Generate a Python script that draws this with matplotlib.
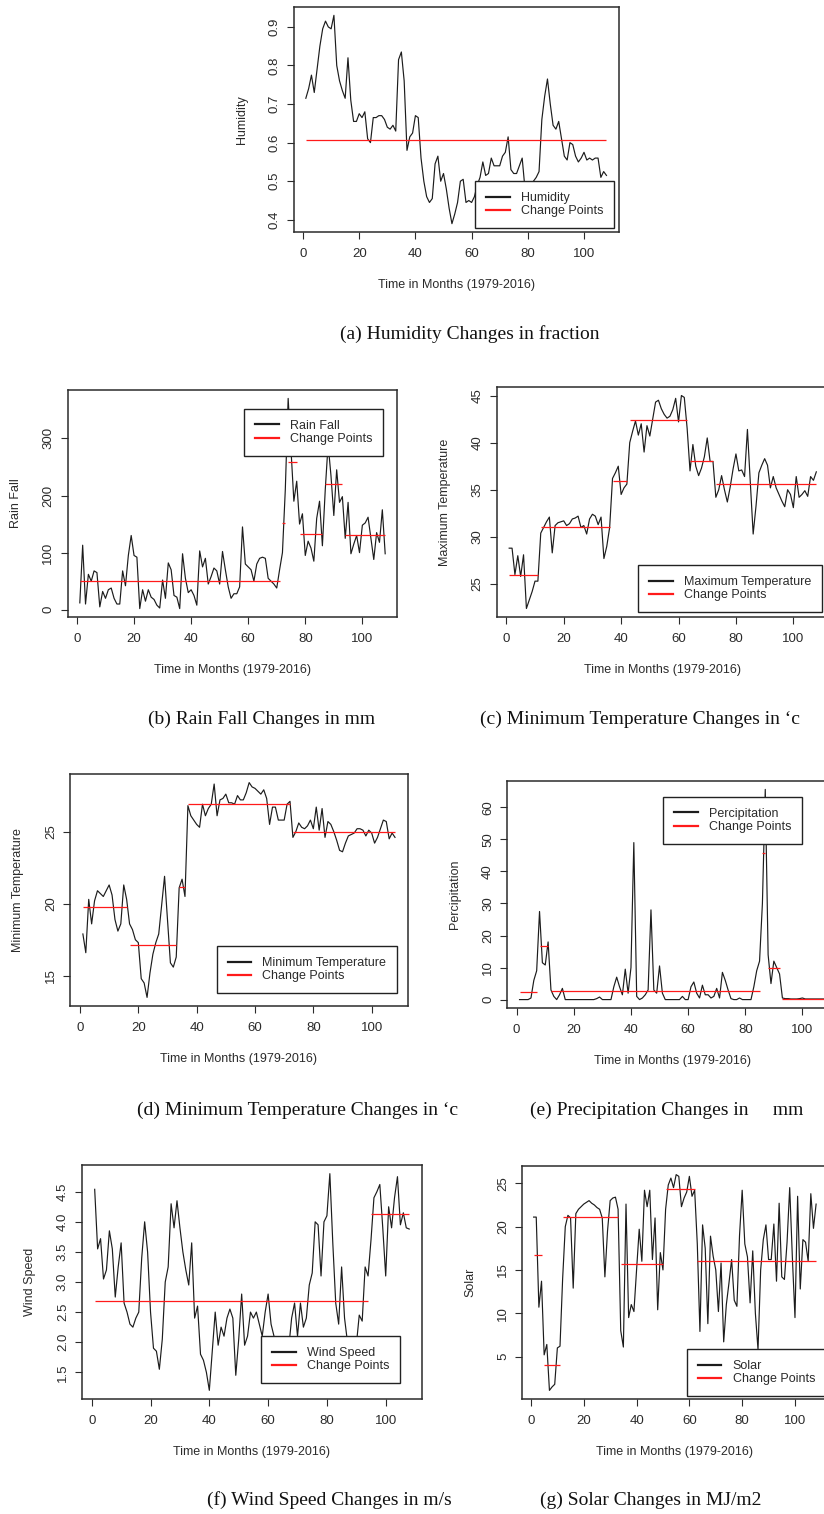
"""Seven stacked change-point panels (R style) for the 1979-2016 weather series."""
import matplotlib
matplotlib.use("Agg")
import matplotlib.pyplot as plt
from matplotlib.lines import Line2D
import numpy as np

plt.rcParams["font.family"] = ["Liberation Sans", "DejaVu Sans"]

W, H = 824, 1514          # output size in px (dpi 100)
INK = "#2b2b2b"

months = np.arange(1, 109)
x_ticks = [0, 20, 40, 60, 80, 100]
x_label = "Time in Months (1979-2016)"

# ---- series ---------------------------------------------------------------
humidity = [0.715, 0.74, 0.775, 0.73, 0.79, 0.85, 0.895, 0.915, 0.90, 0.895,
            0.93, 0.80, 0.76, 0.735, 0.715, 0.82, 0.71, 0.655, 0.655, 0.675,
            0.665, 0.68, 0.61, 0.60, 0.665, 0.665, 0.67, 0.67, 0.66, 0.64,
            0.635, 0.645, 0.63, 0.815, 0.835, 0.76, 0.58, 0.615, 0.625, 0.67,
            0.665, 0.56, 0.50, 0.46, 0.445, 0.455, 0.545, 0.565, 0.50, 0.52,
            0.48, 0.43, 0.39, 0.415, 0.445, 0.50, 0.505, 0.445, 0.45, 0.445,
            0.46, 0.49, 0.51, 0.55, 0.515, 0.52, 0.56, 0.54, 0.54, 0.54,
            0.565, 0.575, 0.615, 0.53, 0.52, 0.52, 0.54, 0.56, 0.48, 0.47,
            0.49, 0.50, 0.51, 0.525, 0.66, 0.72, 0.765, 0.70, 0.645, 0.635,
            0.655, 0.61, 0.565, 0.555, 0.60, 0.595, 0.565, 0.55, 0.56, 0.575,
            0.555, 0.56, 0.555, 0.56, 0.56, 0.51, 0.525, 0.515]

rainfall = [12, 113, 10, 62, 50, 68, 65, 5, 32, 20,
            35, 38, 20, 10, 10, 68, 42, 95, 130, 95,
            92, 2, 35, 15, 35, 22, 18, 8, 3, 52,
            20, 82, 70, 25, 22, 2, 98, 55, 30, 35,
            25, 8, 103, 75, 90, 45, 58, 73, 68, 45,
            102, 70, 40, 20, 28, 28, 40, 145, 80, 75,
            70, 50, 80, 90, 92, 90, 55, 50, 45, 38,
            70, 100, 210, 370, 280, 190, 225, 150, 168, 95,
            120, 108, 85, 160, 190, 112, 210, 290, 235, 165,
            245, 188, 198, 125, 188, 98, 115, 130, 100, 148,
            152, 162, 125, 88, 135, 118, 175, 98]

max_temp = [28.8, 28.8, 26.0, 28.0, 25.8, 28.1, 22.4, 23.3, 24.2, 25.3,
            25.3, 30.4, 31.0, 31.6, 32.1, 28.3, 31.2, 31.5, 31.6, 31.7,
            31.2, 31.4, 31.9, 32.0, 32.2, 31.0, 31.2, 30.3, 31.9, 32.4,
            32.2, 31.3, 32.1, 27.7, 29.0, 31.0, 36.2, 36.8, 37.5, 34.5,
            35.2, 35.6, 40.0, 41.2, 42.3, 40.8, 42.0, 39.0, 41.8, 40.7,
            42.5, 44.3, 44.5, 43.6, 43.0, 42.6, 42.8, 43.5, 44.7, 42.2,
            45.0, 44.8, 41.5, 37.0, 39.8, 37.5, 36.5, 37.3, 38.5, 40.5,
            38.0, 38.0, 34.2, 35.0, 36.5, 35.0, 33.7, 35.3, 37.2, 38.8,
            37.0, 37.1, 36.4, 41.4, 35.8, 30.3, 33.3, 36.8, 37.6, 38.3,
            37.6, 35.2, 36.4, 35.2, 34.5, 33.8, 33.2, 35.0, 34.5, 33.1,
            36.4, 34.2, 34.5, 34.9, 34.3, 36.4, 36.0, 36.9]

min_temp = [17.9, 16.6, 20.3, 18.6, 20.2, 20.9, 20.7, 20.5, 20.9, 21.3,
            20.6, 18.9, 18.1, 18.6, 21.3, 20.3, 18.6, 18.2, 17.5, 17.3,
            14.8, 14.5, 13.5, 15.2, 16.5, 17.3, 17.9, 19.9, 21.9, 18.9,
            15.9, 15.6, 16.3, 21.1, 21.7, 20.5, 26.8, 26.1, 25.8, 25.5,
            25.3, 26.9, 26.1, 26.6, 26.9, 28.3, 26.1, 27.2, 27.3, 27.6,
            27.0, 27.0, 26.9, 27.5, 27.2, 27.2, 27.7, 28.4, 28.1, 28.0,
            27.8, 27.6, 27.9, 27.3, 25.5, 26.7, 26.7, 25.8, 25.8, 25.8,
            26.9, 27.1, 24.6, 25.0, 25.6, 25.3, 25.2, 25.4, 25.8, 25.2,
            26.7, 25.1, 26.6, 24.6, 25.7, 25.5, 25.0, 24.4, 23.7, 23.6,
            24.2, 24.7, 24.8, 24.9, 25.2, 25.2, 25.1, 24.7, 25.1, 24.9,
            24.2, 24.6, 25.2, 25.8, 25.7, 24.5, 24.9, 24.6]

precip = [0, 0, 0, 0, 0.5, 6, 9, 27.5, 11.5, 10.8,
          18, 3, 1, 0, 1.5, 3.5, 0, 0, 0, 0,
          0, 0, 0, 0, 0, 0, 0, 0.3, 0.8, 0,
          0, 0, 0, 4, 7, 4, 1.5, 9.5, 2, 10,
          49, 1, 0, 0.5, 1.5, 3, 28, 3, 2, 10.5,
          2, 0, 0, 0, 0, 0, 0, 1, 0, 0,
          4, 5.5, 2, 0.5, 4.5, 1.5, 1.5, 0.5, 1, 3.5,
          0.5, 8.5, 6, 3, 0.3, 0, 0, 0.5, 0, 0,
          0, 0, 4, 9, 12, 30, 65.6, 14, 5, 12,
          10, 8, 0.5, 0.3, 0.3, 0.2, 0.2, 0.2, 0.3, 0.5,
          0.2, 0.2, 0.2, 0.2, 0.2, 0.2, 0.2, 0.2]

wind = [4.54, 3.55, 3.72, 3.05, 3.2, 3.85, 3.55, 2.75, 3.25, 3.65,
        2.65, 2.5, 2.3, 2.25, 2.4, 2.5, 3.4, 4.0, 3.5, 2.5,
        1.9, 1.85, 1.55, 2.05, 3.0, 3.25, 4.3, 3.9, 4.35, 3.9,
        3.5, 3.2, 2.95, 3.65, 2.4, 2.6, 1.8, 1.7, 1.5, 1.2,
        1.85, 2.5, 1.95, 2.25, 2.1, 2.4, 2.55, 2.4, 1.45, 2.05,
        2.8, 1.95, 2.1, 2.5, 2.4, 2.5, 2.3, 2.1, 2.5, 2.8,
        2.3, 2.1, 1.9, 1.8, 1.9, 2.0, 1.9, 2.4, 2.65, 2.1,
        2.65, 2.25, 2.4, 2.95, 3.15, 4.0, 3.95, 3.1, 4.0, 4.1,
        4.8, 3.65, 2.65, 2.3, 3.25, 2.4, 2.0, 1.7, 1.9, 1.95,
        2.45, 2.35, 3.25, 3.1, 3.7, 4.4, 4.5, 4.62, 3.9, 3.1,
        4.25, 3.9, 4.4, 4.75, 3.95, 4.15, 3.9, 3.88]

solar = [21.1, 21.1, 10.7, 13.7, 5.2, 6.4, 1.1, 1.5, 1.8, 6.0,
         6.2, 14.0, 20.0, 21.3, 21.0, 12.9, 21.5, 22.0, 22.3, 22.6,
         22.8, 23.0, 22.7, 22.5, 22.2, 22.0, 21.0, 14.2, 19.5, 23.0,
         23.3, 23.4, 22.0, 8.0, 6.1, 22.6, 9.5, 11.0, 10.2, 15.0,
         19.7, 16.0, 24.2, 22.3, 24.2, 16.2, 21.0, 10.4, 17.0, 15.0,
         22.0, 24.8, 25.6, 24.5, 26.0, 25.8, 22.3, 23.3, 24.0, 25.8,
         23.5, 24.2, 18.0, 7.9, 20.2, 17.5, 8.8, 18.9, 16.6, 15.0,
         10.2, 15.8, 6.7, 11.0, 13.5, 16.2, 11.5, 10.8, 19.0, 24.2,
         18.0, 16.5, 11.2, 17.2, 10.0, 5.8, 15.0, 18.5, 20.2, 16.2,
         16.2, 20.3, 13.7, 22.7, 14.2, 13.9, 18.2, 24.5, 16.5, 9.5,
         23.5, 12.8, 18.5, 18.2, 16.0, 23.8, 19.8, 22.6]

# ---- change-point segments: start month, end month, segment mean ----------
hum_cp_start, hum_cp_end, hum_cp_level = [1], [108], [0.607]
rain_cp_start = [1, 72, 74, 78, 87, 94]
rain_cp_end = [71, 73, 77, 86, 93, 108]
rain_cp_level = [50.5, 152, 258, 133, 220, 131]
tmax_cp_start = [1, 12, 37, 43, 64, 73]
tmax_cp_end = [11, 36, 42, 63, 72, 108]
tmax_cp_level = [25.95, 31.1, 35.95, 42.4, 38.1, 35.6]
tmin_cp_start = [1, 17, 34, 37, 73]
tmin_cp_end = [16, 33, 36, 72, 108]
tmin_cp_level = [19.8, 17.15, 21.15, 26.9, 25.0]
prec_cp_start = [1, 8, 12, 86, 88, 93]
prec_cp_end = [7, 11, 85, 87, 92, 108]
prec_cp_level = [2.3, 16.8, 2.8, 45.8, 10.0, 0.25]
wind_cp_start, wind_cp_end, wind_cp_level = [1, 95], [94, 108], [2.68, 4.13]
sol_cp_start = [1, 5, 12, 34, 51, 63]
sol_cp_end = [4, 11, 33, 50, 62, 108]
sol_cp_level = [16.7, 4.05, 21.1, 15.65, 24.35, 16.05]


def px_rect(left, top, right, bottom):
    return [left / W, 1 - bottom / H, (right - left) / W, (bottom - top) / H]


def panel(fig, box, y, cps, ylabel, name, yticks, leg_loc, leg_xy):
    left, top, right, bottom = box
    ax = fig.add_axes(px_rect(*box))
    wpx, hpx = right - left, bottom - top

    ax.plot(months, y, color="#1c1c1c", lw=0.85)
    ax.hlines(cps[2], cps[0], cps[1], colors="#ff1a1a", lw=0.9)

    # R's default 4% axis expansion
    lo, hi = min(y), max(y)
    pad = 0.04 * (hi - lo)
    ax.set_ylim(lo - pad, hi + pad)
    span = months[-1] - months[0]
    ax.set_xlim(months[0] - 0.04 * span, months[-1] + 0.04 * span)

    ax.set_xticks(x_ticks)
    ax.set_yticks(yticks)
    ax.tick_params(direction="out", length=5, width=0.8, color=INK,
                   labelcolor=INK, labelsize=9.5)
    ax.tick_params(axis="x", pad=6.5)
    ax.tick_params(axis="y", pad=4.5, labelrotation=90)
    for lab in ax.get_yticklabels():
        lab.set_va("center")
    for sp in ax.spines.values():
        sp.set_color(INK)
        sp.set_linewidth(1.1)

    ax.set_xlabel(x_label, fontsize=9, color=INK)
    ax.set_ylabel(ylabel, fontsize=9, color=INK)
    ax.xaxis.set_label_coords(0.5, -47 / hpx)
    ax.yaxis.set_label_coords(-46 / wpx, 0.5)

    handles = [Line2D([], [], color="#1c1c1c", lw=1.6),
               Line2D([], [], color="#ff1a1a", lw=1.6)]
    anchor = ((leg_xy[0] - left) / wpx, (bottom - leg_xy[1]) / hpx)
    leg = ax.legend(handles, [name, "Change Points"], loc=leg_loc,
                    bbox_to_anchor=anchor, borderaxespad=0, fontsize=9,
                    frameon=True, fancybox=False, framealpha=1,
                    edgecolor="#222222", borderpad=0.85, handlelength=1.9,
                    handletextpad=0.9, labelspacing=0.12)
    leg.get_frame().set_linewidth(1.0)
    for t in leg.get_texts():
        t.set_color(INK)
    return ax


fig = plt.figure(figsize=(W / 100, H / 100), dpi=100)
fig.patch.set_facecolor("white")

panel(fig, (293.8, 7, 618.5, 232), humidity,
      (hum_cp_start, hum_cp_end, hum_cp_level), "Humidity", "Humidity",
      [0.4, 0.5, 0.6, 0.7, 0.8, 0.9], "lower right", (614, 228))
panel(fig, (67.6, 390, 397.4, 617), rainfall,
      (rain_cp_start, rain_cp_end, rain_cp_level), "Rain Fall", "Rain Fall",
      [0, 100, 200, 300], "upper right", (383, 409))
panel(fig, (496.9, 387, 828.6, 617), max_temp,
      (tmax_cp_start, tmax_cp_end, tmax_cp_level), "Maximum Temperature",
      "Maximum Temperature", [25, 30, 35, 40, 45], "lower right", (822, 612))
panel(fig, (70.4, 774, 407.5, 1006), min_temp,
      (tmin_cp_start, tmin_cp_end, tmin_cp_level), "Minimum Temperature",
      "Minimum Temperature", [15, 20, 25], "lower right", (397, 993))
panel(fig, (507.3, 781, 837.5, 1008), precip,
      (prec_cp_start, prec_cp_end, prec_cp_level), "Percipitation",
      "Percipitation", [0, 10, 20, 30, 40, 50, 60], "upper right", (802, 797))
panel(fig, (82.1, 1165, 421.8, 1399), wind,
      (wind_cp_start, wind_cp_end, wind_cp_level), "Wind Speed", "Wind Speed",
      [1.5, 2.0, 2.5, 3.0, 3.5, 4.0, 4.5], "lower right", (400, 1383))
panel(fig, (522.3, 1166, 827.4, 1399), solar,
      (sol_cp_start, sol_cp_end, sol_cp_level), "Solar", "Solar",
      [5, 10, 15, 20, 25], "lower left", (687, 1396))

# captions (Times-like serif, as in the paper)
cap = dict(fontsize=14, family=["Liberation Serif", "DejaVu Serif"],
           color="#111111", va="center")
fig.text(469.5 / W, 1 - 334 / H, "(a) Humidity Changes in fraction", ha="center", **cap)
fig.text(148 / W, 1 - 719 / H, "(b) Rain Fall Changes in mm", ha="left", **cap)
fig.text(480 / W, 1 - 719 / H, "(c) Minimum Temperature Changes in \u2018c", ha="left", **cap)
fig.text(137 / W, 1 - 1110 / H, "(d) Minimum Temperature Changes in \u2018c", ha="left", **cap)
fig.text(530 / W, 1 - 1110 / H, "(e) Precipitation Changes in     mm", ha="left", **cap)
fig.text(207 / W, 1 - 1500 / H, "(f) Wind Speed Changes in m/s", ha="left", **cap)
fig.text(540 / W, 1 - 1500 / H, "(g) Solar Changes in MJ/m2", ha="left", **cap)

fig.savefig("out.png", dpi=100)
